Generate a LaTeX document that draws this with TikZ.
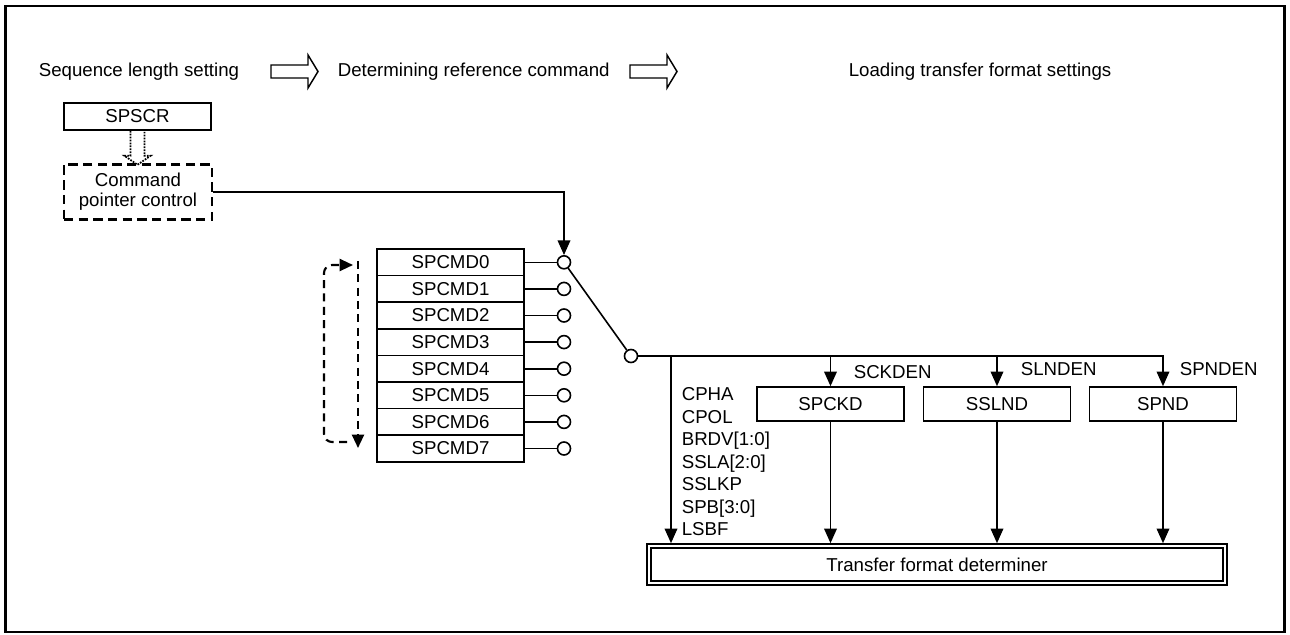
\documentclass[tikz,border=0pt]{standalone}
\usepackage{fontspec}
\setmainfont{Liberation Sans}
\usetikzlibrary{arrows.meta,calc}
\begin{document}
\begin{tikzpicture}[x=0.75pt,y=-0.75pt,line width=1.2pt,
  every node/.style={font=\fontsize{14pt}{16.8pt}\selectfont},
  lbl/.style={inner sep=0pt, anchor=base west},
  regbox/.style={draw, minimum width=110.25pt, minimum height=19.95pt, inner sep=0pt},
  selbox/.style={draw, minimum width=110.25pt, minimum height=25.5pt, inner sep=0pt},
  sw/.style={draw, circle, fill=white, minimum size=9.75pt, inner sep=0pt},
  arr/.style={-{Triangle[width=9.5pt,length=11pt]}},
  larr/.style={-{Triangle[width=9pt,length=10pt]}},
  loopdash/.style={line width=1.6pt, dash pattern=on 6pt off 4pt},
  boxdash/.style={line width=1.7pt, dash pattern=on 7pt off 4pt},
  dotline/.style={line width=1.3pt, dash pattern=on 1.3pt off 0.9pt},
  hollow/.style={line width=1.1pt}
]
\useasboundingbox (0,0) rectangle (1290,635);
% outer frame
\draw[line width=2.2pt] (5.5,6) rectangle (1284.5,632);

% top row labels
\node[lbl] (seq) at (38,77) {Sequence length setting};
\node[lbl] (det) at (337,77) {Determining reference command};
\node[lbl] (load) at (848,77) {Loading transfer format settings};
\draw[hollow] (271,65) -- ++(37,0) -- ++(0,-10) -- ++(10,16.5) -- ++(-10,16.5) -- ++(0,-10) -- ++(-37,0) -- cycle;
\draw[hollow] (630,65) -- ++(37,0) -- ++(0,-10) -- ++(10,16.5) -- ++(-10,16.5) -- ++(0,-10) -- ++(-37,0) -- cycle;

% SPSCR and command pointer control
\node[draw, minimum width=110.25pt, minimum height=20.25pt, inner sep=0pt] (spscr) at (137.5,116.5) {SPSCR};
\node[boxdash, draw, minimum width=111pt, minimum height=41.25pt, inner sep=0pt,
      align=center, font=\fontsize{14pt}{15pt}\selectfont] (cpc) at (138,192) {Command\\pointer control};
\draw[dotline] ($(spscr.south)+(-7,0)$) -- ++(0,25) -- ++(-6,0) -- ++(13,9) -- ++(13,-9) -- ++(-6,0) -- ++(0,-25);

% SPCMD registers and switch contacts
\foreach \i in {0,...,7}{
  \node[regbox] (r\i) at (450.5,{262.3+26.6*\i}) {SPCMD\i};
  \node[sw] (c\i) at (564,{262.3+26.6*\i}) {};
  \draw (r\i.east) -- (c\i.west);
}
\node[sw] (cs) at (631,356) {};
\draw (c0) -- (cs);
\draw[arr] (cpc.east) -| (c0.north);

% loop indicator
\coordinate (la) at (347,442);
\coordinate (lb) at (324,442);
\coordinate (lc) at (324,265);
\coordinate (ld) at (353,265);
\draw[loopdash, larr, rounded corners=6pt] (la) -- (lb) -- (lc) -- (ld);
\coordinate (le) at (358,261);
\coordinate (lf) at (358,448);
\draw[loopdash, larr] (le) -- (lf);

% selection registers
\node[selbox] (spckd) at (830.5,404) {SPCKD};
\node[selbox] (sslnd) at (997,404) {SSLND};
\node[selbox] (spnd) at (1163,404) {SPND};
\node[draw, double, double distance=2pt, minimum width=432pt, minimum height=27.75pt, inner sep=0pt] (tfd) at (937,564.5) {Transfer format determiner};

% bus
\coordinate (j1) at (671,356);
\draw[arr] (cs.east) -| (spnd.north);
\draw[arr] (spckd.north |- cs.east) -- (spckd.north);
\draw[arr] (sslnd.north |- cs.east) -- (sslnd.north);
\draw[arr, shorten >=1.5pt] (j1) -- (j1 |- tfd.north);
\draw[arr, shorten >=1.5pt] (spckd.south) -- (spckd.south |- tfd.north);
\draw[arr, shorten >=1.5pt] (sslnd.south) -- (sslnd.south |- tfd.north);
\draw[arr, shorten >=1.5pt] (spnd.south) -- (spnd.south |- tfd.north);

% enable labels
\node[lbl] (sckden) at (853,378.5) {SCKDEN};
\node[lbl] (slnden) at (1020,375.5) {SLNDEN};
\node[lbl] (spnden) at (1179,375.5) {SPNDEN};

% parameter labels
\node[lbl] (p1) at (681,400.5) {CPHA};
\node[lbl] (p2) at (681,423) {CPOL};
\node[lbl] (p3) at (681,445.5) {BRDV[1:0]};
\node[lbl] (p4) at (681,468) {SSLA[2:0]};
\node[lbl] (p5) at (681,490.5) {SSLKP};
\node[lbl] (p6) at (681,513) {SPB[3:0]};
\node[lbl] (p7) at (681,535.5) {LSBF};
\end{tikzpicture}
\end{document}
